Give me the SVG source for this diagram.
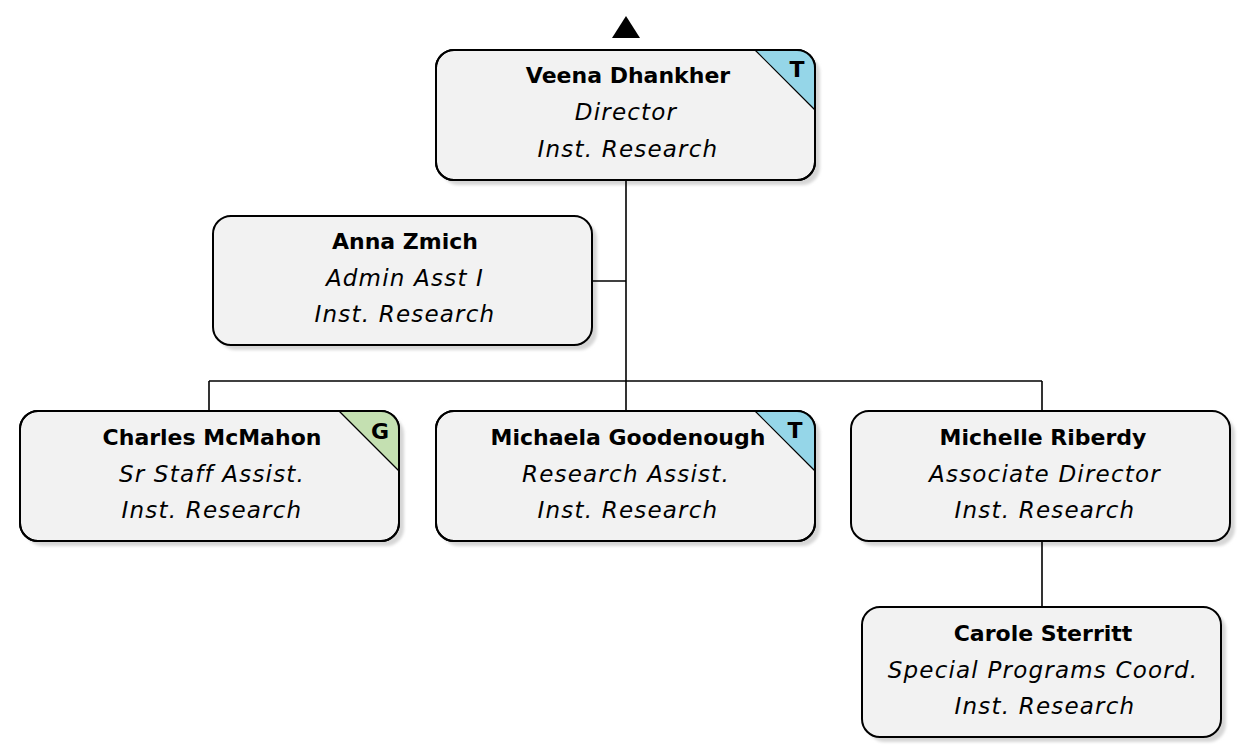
<svg xmlns="http://www.w3.org/2000/svg" width="1242" height="747" viewBox="0 0 1242 747">
  <style>
    .box { fill: #f2f2f2; stroke: #000; stroke-width: 2; }
    .shadow { fill: #d6d6d6; }
    .name { font-family: "Comic Sans MS", "DejaVu Sans", sans-serif; font-size: 22px; font-weight: bold; text-anchor: middle; fill: #000; }
    .info { font-family: "Comic Sans MS", "DejaVu Sans", sans-serif; font-size: 23px; font-style: italic; letter-spacing: 1.2px; text-anchor: middle; fill: #000; }
    .badge { font-family: "DejaVu Sans", sans-serif; font-size: 22px; font-weight: bold; text-anchor: middle; fill: #000; }
    .wire { fill: none; stroke: #000; stroke-width: 1.6; }
    .tagT { fill: #95d6e8; }
    .tagG { fill: #c4e0b1; }
  </style>
  <defs>
    <filter id="soft" x="-10%" y="-10%" width="120%" height="130%">
      <feGaussianBlur stdDeviation="1.5"/>
    </filter>
    <clipPath id="clipTop"><rect x="436" y="50" width="379" height="130" rx="18"/></clipPath>
    <clipPath id="clipCharles"><rect x="20" y="411" width="379" height="130" rx="18"/></clipPath>
    <clipPath id="clipMichaela"><rect x="436" y="411" width="379" height="130" rx="18"/></clipPath>
  </defs>

  <rect width="1242" height="747" fill="#ffffff"/>

  <!-- upward marker above the top node -->
  <polygon id="up-arrow" points="612,38 626,16 640,38" fill="#000"/>

  <g id="veena">
    <rect class="shadow" x="441" y="55" width="379" height="130" rx="18" filter="url(#soft)"/>
    <rect class="box" x="436" y="50" width="379" height="130" rx="18"/>
    <polygon class="tagT" points="755,50 815,50 815,110" clip-path="url(#clipTop)"/>
    <path d="M755 50 L815 110" stroke="#000" stroke-width="1.2"/>
    <rect x="436" y="50" width="379" height="130" rx="18" fill="none" stroke="#000" stroke-width="2"/>
    <text class="badge" x="797" y="77">T</text>
    <text class="name" x="628" y="83">Veena Dhankher</text>
    <text class="info" x="626" y="120">Director</text>
    <text class="info" x="628" y="157">Inst. Research</text>
  </g>

  <g id="anna">
    <rect class="shadow" x="218" y="221" width="379" height="129" rx="18" filter="url(#soft)"/>
    <rect class="box" x="213" y="216" width="379" height="129" rx="18"/>
    <text class="name" x="405" y="249">Anna Zmich</text>
    <text class="info" x="405" y="286">Admin Asst I</text>
    <text class="info" x="405" y="322">Inst. Research</text>
  </g>

  <g id="charles">
    <rect class="shadow" x="25" y="416" width="379" height="130" rx="18" filter="url(#soft)"/>
    <rect class="box" x="20" y="411" width="379" height="130" rx="18"/>
    <polygon class="tagG" points="339,411 399,411 399,471" clip-path="url(#clipCharles)"/>
    <path d="M339 411 L399 471" stroke="#000" stroke-width="1.2"/>
    <rect x="20" y="411" width="379" height="130" rx="18" fill="none" stroke="#000" stroke-width="2"/>
    <text class="badge" x="380" y="439">G</text>
    <text class="name" x="212" y="445">Charles McMahon</text>
    <text class="info" x="212" y="482">Sr Staff Assist.</text>
    <text class="info" x="212" y="518">Inst. Research</text>
  </g>

  <g id="michaela">
    <rect class="shadow" x="441" y="416" width="379" height="130" rx="18" filter="url(#soft)"/>
    <rect class="box" x="436" y="411" width="379" height="130" rx="18"/>
    <polygon class="tagT" points="755,411 815,411 815,471" clip-path="url(#clipMichaela)"/>
    <path d="M755 411 L815 471" stroke="#000" stroke-width="1.2"/>
    <rect x="436" y="411" width="379" height="130" rx="18" fill="none" stroke="#000" stroke-width="2"/>
    <text class="badge" x="795" y="438">T</text>
    <text class="name" x="628" y="445">Michaela Goodenough</text>
    <text class="info" x="626" y="482">Research Assist.</text>
    <text class="info" x="628" y="518">Inst. Research</text>
  </g>

  <g id="michelle">
    <rect class="shadow" x="856" y="416" width="379" height="130" rx="18" filter="url(#soft)"/>
    <rect class="box" x="851" y="411" width="379" height="130" rx="18"/>
    <text class="name" x="1043" y="445">Michelle Riberdy</text>
    <text class="info" x="1045" y="482">Associate Director</text>
    <text class="info" x="1045" y="518">Inst. Research</text>
  </g>

  <g id="carole">
    <rect class="shadow" x="867" y="612" width="359" height="130" rx="18" filter="url(#soft)"/>
    <rect class="box" x="862" y="607" width="359" height="130" rx="18"/>
    <text class="name" x="1043" y="641">Carole Sterritt</text>
    <text class="info" x="1043" y="678">Special Programs Coord.</text>
    <text class="info" x="1045" y="714">Inst. Research</text>
  </g>

  <!-- connectors, drawn over the shadows -->
  <g id="connectors">
    <path class="wire" d="M626 181 V381"/>
    <path class="wire" d="M593 281 H626"/>
    <path class="wire" d="M209 381 H1042"/>
    <path class="wire" d="M209 381 V410"/>
    <path class="wire" d="M626 381 V410"/>
    <path class="wire" d="M1042 381 V410"/>
    <path class="wire" d="M1042 542 V606"/>
  </g>
</svg>
